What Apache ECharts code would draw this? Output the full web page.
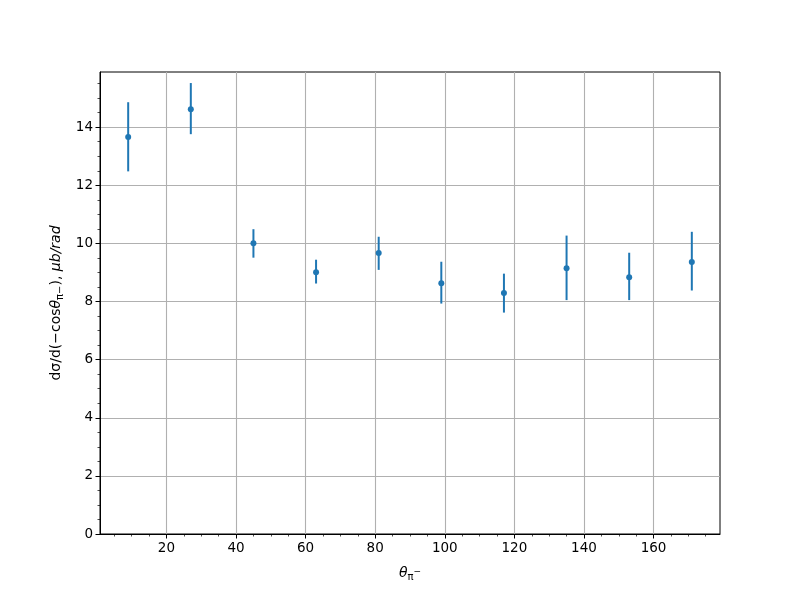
<!DOCTYPE html>
<html><head><meta charset="utf-8">
<script src="https://cdn.jsdelivr.net/npm/echarts@6/dist/echarts.min.js"></script>
<style>html,body{margin:0;padding:0;background:#fff}#c{width:800px;height:600px}</style>
</head><body><div id="c"></div>
<script>
const thetaValues = [9, 27, 45, 63, 81, 99, 117, 135, 153, 171];
const crossSection = [13.66, 14.62, 10.01, 9.01, 9.67, 8.63, 8.29, 9.15, 8.84, 9.36];
const errLow = [12.48, 13.76, 9.51, 8.62, 9.09, 7.93, 7.62, 8.05, 8.05, 8.38];
const errHigh = [14.86, 15.52, 10.49, 9.44, 10.23, 9.37, 8.96, 10.27, 9.68, 10.40];
const xMajorTicks = [20, 40, 60, 80, 100, 120, 140, 160];
const xMinorTicks = [5, 10, 15, 25, 30, 35, 45, 50, 55, 65, 70, 75, 85, 90, 95, 105, 110, 115, 125, 130, 135, 145, 150, 155, 165, 170, 175];
const yMajorTicks = [0, 2, 4, 6, 8, 10, 12, 14];
const yMinorTicks = [0.5, 1, 1.5, 2.5, 3, 3.5, 4.5, 5, 5.5, 6.5, 7, 7.5, 8.5, 9, 9.5, 10.5, 11, 11.5, 12.5, 13, 13.5, 14.5, 15, 15.5];

const C = '#1f77b4';
const FONT = 'DejaVu Sans';
const chart = echarts.init(document.getElementById('c'));
const gridLine = { show: true, lineStyle: { color: '#b0b0b0', width: 1.1 } };
const xCommon = { type: 'value', min: 0.9, max: 179.1, gridIndex: 0 };
const yCommon = { type: 'value', min: 0, max: 15.9, gridIndex: 0 };
chart.setOption({
  animation: false,
  backgroundColor: '#fff',
  grid: { left: 100, right: 80, top: 72, bottom: 66, show: true, borderColor: '#000', borderWidth: 1, backgroundColor: 'transparent' },
  xAxis: [
    Object.assign({}, xCommon, {
      position: 'bottom',
      axisLine: { show: true, onZero: false, lineStyle: { color: '#000', width: 1 } },
      axisTick: { show: true, length: 4.5, customValues: xMajorTicks, lineStyle: { color: '#000', width: 1 } },
      axisLabel: { customValues: xMajorTicks, color: '#000', fontFamily: FONT, fontSize: 13.5, margin: 7 },
      splitLine: gridLine,
      name: '{i|θ}{sub|π}{sup|−}',
      nameLocation: 'middle', nameGap: 30,
      nameTextStyle: {
        color: '#000', fontFamily: FONT, fontSize: 14,
        rich: {
          i: { fontFamily: FONT, fontStyle: 'italic', fontSize: 14, color: '#000' },
          sub: { fontFamily: FONT, fontSize: 10, color: '#000', padding: [8, 0, 0, 0] },
          sup: { fontFamily: FONT, fontSize: 9, color: '#000', padding: [0, 0, 2, 0] }
        }
      }
    }),
    Object.assign({}, xCommon, {
      position: 'bottom',
      axisLine: { show: false, onZero: false },
      axisTick: { show: true, length: 2.5, customValues: xMinorTicks, lineStyle: { color: '#000', width: 0.7 } },
      axisLabel: { show: false },
      splitLine: { show: false }
    })
  ],
  yAxis: [
    Object.assign({}, yCommon, {
      position: 'left',
      axisLine: { show: true, onZero: false, lineStyle: { color: '#000', width: 1 } },
      axisTick: { show: true, length: 4.5, customValues: yMajorTicks, lineStyle: { color: '#000', width: 1 } },
      axisLabel: { customValues: yMajorTicks, color: '#000', fontFamily: FONT, fontSize: 13.5, margin: 7 },
      splitLine: gridLine,
      name: 'dσ/d(−cos{i|θ}{sub|π−}), {i|μb/rad}',
      nameLocation: 'middle', nameGap: 35, nameRotate: 90,
      nameTextStyle: {
        color: '#000', fontFamily: FONT, fontSize: 14,
        rich: {
          i: { fontFamily: FONT, fontStyle: 'italic', fontSize: 14, color: '#000' },
          sub: { fontFamily: FONT, fontSize: 10, color: '#000', padding: [8, 0, 0, 0] }
        }
      }
    }),
    Object.assign({}, yCommon, {
      position: 'left',
      axisLine: { show: false, onZero: false },
      axisTick: { show: true, length: 2.5, customValues: yMinorTicks, lineStyle: { color: '#000', width: 0.7 } },
      axisLabel: { show: false },
      splitLine: { show: false }
    })
  ],
  series: [
    {
      type: 'custom',
      xAxisIndex: 0, yAxisIndex: 0,
      data: thetaValues.map((x, i) => [x, errLow[i], errHigh[i]]),
      renderItem: function (params, api) {
        const p1 = api.coord([api.value(0), api.value(1)]);
        const p2 = api.coord([api.value(0), api.value(2)]);
        return { type: 'line', shape: { x1: p1[0], y1: p1[1], x2: p2[0], y2: p2[1] }, style: { stroke: C, lineWidth: 2 } };
      },
      z: 2
    },
    {
      type: 'scatter',
      xAxisIndex: 0, yAxisIndex: 0,
      data: thetaValues.map((x, i) => [x, crossSection[i]]),
      symbol: 'circle', symbolSize: 6,
      itemStyle: { color: C, opacity: 1 },
      z: 3
    }
  ]
});
</script></body></html>
